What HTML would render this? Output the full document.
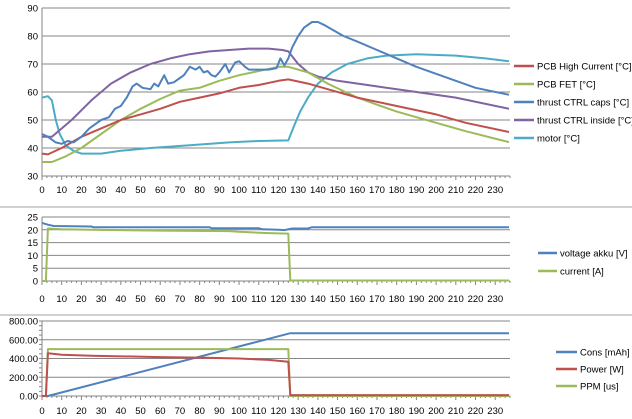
<!DOCTYPE html>
<html><head><meta charset="utf-8">
<style>
html,body{margin:0;padding:0;background:#fff;}
svg{display:block;font-family:"Liberation Sans",sans-serif;}
text{font-size:9.5px;fill:#000;}
</style></head>
<body>
<svg id="chart" width="632" height="419" viewBox="0 0 632 419"></svg>
<script>
// ---- shared x domain ----
const xMax = 237.5;
const xTicks = [0,10,20,30,40,50,60,70,80,90,100,110,120,130,140,150,160,170,180,190,200,210,220,230];

// ---- top chart: temperatures ----
const tempTicks = [30,40,50,60,70,80,90];
const pcbHighX = [0,3,10,20,30,40,50,60,70,80,90,100,110,120,125,135,145,160,180,200,215,237];
const pcbHighY = [38,37.7,40,44,47,50,52,54,56.5,58,59.5,61.5,62.5,64,64.5,63,61,58,55,52,49,45.7];
const pcbFetX = [0,5,12,20,30,40,50,60,70,80,90,100,110,120,125,135,145,160,180,200,215,237];
const pcbFetY = [35,35,37,40,45,50,54,57.5,60.5,61.5,64,66,67.5,69,69,67,63,58,53,49,46,42.1];
const insideX = [0,5,15,25,35,45,55,65,75,85,95,105,115,122,125,130,135,140,150,170,190,210,237];
const insideY = [44,44,50,57,63,67,70,72,73.5,74.5,75,75.5,75.5,75,74.5,70,67,65.5,64,62,60,58,54];
const capsX = [0,3,7,10,13,16,20,24,30,34,37,40,43,46,48,51,55,57,59,62,64,67,70,72,75,78,80,82,84,86,88,90,93,95,98,100,103,105,110,115,119,121,123,125,127,130,133,137,140,143,148,153,160,170,180,190,200,210,220,237];
const capsY = [45,44,42,41.5,42.5,42,44,47,50,51,54,55,58,62,63,61.5,61,63,62,66,63,63.5,65,66,69,68,69,67,67.5,66,65.5,67,70,67,70.5,71,69,68,68,68,68.5,72,69.5,72,76,80,83,85,85,84,82,80,78,75,72,69,66.5,64,61.5,59];
const motorX = [0,3,5,7,9,12,16,20,30,40,55,75,95,110,125,128,131,135,140,147,155,165,175,190,210,225,237];
const motorY = [58,58.5,57,50,45,41,39,38,38,39,40,41,42,42.5,42.7,48,53,58,63,67,70,72,73,73.5,73,72,71];

// ---- middle chart: voltage / current ----
const vaTicks = [0,5,10,15,20,25];
const voltX = [0,3,6,25,26,85,86,110,112,120,123,127,135,137,237];
const voltY = [22.7,22,21.5,21.3,21,21,20.6,20.6,20.2,20,19.9,20.5,20.5,21,21];
const currX = [0,2,3,10,25,60,95,100,115,125,126,237];
const currY = [0,0,20.5,20.2,20,19.7,19.5,19.2,18.7,18.5,0.2,0.2];

// ---- bottom chart: consumption / power / ppm ----
const cpTicks = [0,200,400,600,800];
const consX = [0,3,126,237];
const consY = [0,0,670,670];
const powerX = [0,2,3,10,25,60,80,100,115,125,126,237];
const powerY = [0,0,455,440,430,415,410,400,385,365,10,10];
const ppmX = [0,2,3,125,126,237];
const ppmY = [0,0,500,500,0,0];

const NS = "http://www.w3.org/2000/svg";
const svg = document.getElementById('chart');
function el(tag, attrs, parent){
  const e = document.createElementNS(NS, tag);
  for (const k in attrs) e.setAttribute(k, attrs[k]);
  (parent||svg).appendChild(e);
  return e;
}
const L = 42, R = 510;
function sx(v){ return L + v/xMax*(R-L); }

function panel(name, top, bottom, yMin, yMax, ticks, fmt, labelY, minor){
  const g = el('g', {});
  
  
  const sy = v => bottom - (v-yMin)/(yMax-yMin)*(bottom-top);
  ticks.forEach(t => {
    const y = sy(t);
    if (t !== yMin) {
      const gl = el('line', {x1:L, x2:R, y1:y, y2:y, stroke:'#868686', 'stroke-width':1}, g);
      
      
    }
    const tx = el('text', {x:L-4, y:y+3.5, 'text-anchor':'end'}, g);
    tx.textContent = fmt(t);
    
    
  });
  if (minor) {
    for (let v=yMin; v<=yMax; v+=minor) el('line',{x1:L-3,x2:L,y1:sy(v),y2:sy(v),stroke:'#868686'},g);
  }
  const ya = el('line', {x1:L, x2:L, y1:top, y2:bottom, stroke:'#868686'}, g);
  
  
  const xa = el('line', {x1:L, x2:R, y1:bottom, y2:bottom, stroke:'#868686'}, g);
  
  
  for (let v=0; v<=xMax; v+=2.5) el('line',{x1:sx(v),x2:sx(v),y1:bottom,y2:bottom+(v%10===0?4:2),stroke:'#868686'},g);
  xTicks.forEach(t => {
    const tx = el('text', {x:sx(t), y:labelY, 'text-anchor':'middle'}, g);
    tx.textContent = t;
    
    
  });
  return sy;
}
function series(name, xs, ys, sy, color){
  const pts = xs.map((x,i)=> sx(x).toFixed(1)+','+sy(ys[i]).toFixed(1)).join(' ');
  const p = el('polyline', {points:pts, fill:'none', stroke:color, 'stroke-width':2, 'stroke-linejoin':'round'});
  
  
}
function legend(name, label, color, x1, x2, y){
  const g = el('g', {});
  
  
  el('line', {x1:x1, x2:x2, y1:y, y2:y, stroke:color, 'stroke-width':2.5}, g);
  const t = el('text', {x:x2+3, y:y+3.5}, g);
  t.textContent = label;
}

// separators
[207, 315].forEach(y => {
  const s = el('line', {x1:0, x2:632, y1:y, y2:y, stroke:'#a0a0a0'});
  
  
});

// top
const syT = panel('temperature-chart', 8, 176, 30, 90, tempTicks, v=>String(v), 193, 0);
series('motor-line', motorX, motorY, syT, '#4bacc6');
series('thrust-ctrl-inside-line', insideX, insideY, syT, '#8064a2');
series('pcb-fet-line', pcbFetX, pcbFetY, syT, '#9bbb59');
series('pcb-high-current-line', pcbHighX, pcbHighY, syT, '#c0504d');
series('thrust-ctrl-caps-line', capsX, capsY, syT, '#4f81bd');
legend('legend-pcb-high-current', 'PCB High Current [°C]', '#c0504d', 514, 534, 66);
legend('legend-pcb-fet', 'PCB FET [°C]', '#9bbb59', 514, 534, 84);
legend('legend-thrust-ctrl-caps', 'thrust  CTRL caps [°C]', '#4f81bd', 514, 534, 102);
legend('legend-thrust-ctrl-inside', 'thrust CTRL inside [°C]', '#8064a2', 514, 534, 120);
legend('legend-motor', 'motor [°C]', '#4bacc6', 514, 534, 138);

// middle
const syM = panel('voltage-current-chart', 217, 281, 0, 25, vaTicks, v=>String(v), 302, 0);
series('voltage-akku-line', voltX, voltY, syM, '#4f81bd');
series('current-line', currX, currY, syM, '#9bbb59');
legend('legend-voltage-akku', 'voltage akku [V]', '#4f81bd', 538, 557, 253);
legend('legend-current', 'current [A]', '#9bbb59', 538, 557, 271);

// bottom
const syB = panel('consumption-power-chart', 321, 396, 0, 800, cpTicks, v=>v.toFixed(2), 414, 50);
series('cons-line', consX, consY, syB, '#4f81bd');
series('ppm-line', ppmX, ppmY, syB, '#9bbb59');
series('power-line', powerX, powerY, syB, '#c0504d');
legend('legend-cons', 'Cons [mAh]', '#4f81bd', 556, 577, 352);
legend('legend-power', 'Power [W]', '#c0504d', 556, 577, 369);
legend('legend-ppm', 'PPM [us]', '#9bbb59', 556, 577, 386);
</script>
</body></html>
